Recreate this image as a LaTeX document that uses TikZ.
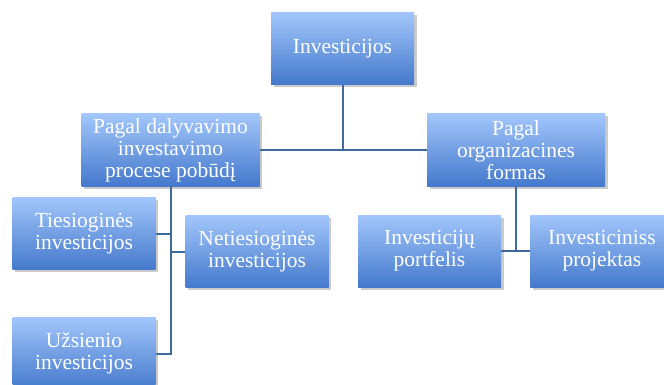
\documentclass[tikz,border=0pt]{standalone}
\usepackage{fontspec}
\setmainfont{Liberation Serif}
\usepackage{xcolor}
\usepackage{tikz}
\usetikzlibrary{shadows, positioning}
\definecolor{boxtop}{HTML}{A2C6FB}
\definecolor{boxbottom}{HTML}{4479CC}
\definecolor{linkblue}{HTML}{3E6A9E}
\tikzstyle{link} = [draw=linkblue, line width=2pt]

\begin{document}
\begin{tikzpicture}[x=1pt, y=1pt]
	% Define styles for the boxes
	\tikzstyle{box} = [rectangle, top color=boxtop, bottom color=boxbottom, text=white, align=center, inner sep=1pt, minimum width=143pt, minimum height=72pt, font=\fontsize{21.5}{22}\selectfont, drop shadow={shadow xshift=2.5pt, shadow yshift=-2.5pt, opacity=0.35, fill=black!60}]
	\tikzstyle{widebox} = [box, minimum width=178pt]
	
	% Picture frame
	\useasboundingbox (0,0) rectangle (664,-385);
	\clip (0,0) rectangle (664,-385);
	
	% Top level
	\node[box] (investicijos) at (342.5,-48.5) {Investicijos};
	
	% Second level
	\node[widebox] (dalyvavimo) at (170.5,-150) {Pagal dalyvavimo\\investavimo\\procese pobūdį};
	\node[widebox] (formos) at (516,-150) {Pagal\\organizacines\\formas};
	
	% Third level
	\node[box] (tiesiogines) at (84,-233.5) {Tiesioginės\\investicijos};
	\node[box] (netiesiogines) at (257,-251.5) {Netiesioginės\\investicijos};
	\node[box] (uzsienio) at (84,-353.5) {Užsienio\\investicijos};
	\node[box] (portfelis) at (429.5,-251) {Investicijų\\portfelis};
	\node[box, right=29pt of portfelis] (projektas) {Investiciniss\\projektas};
	
	% Draw the links
	\draw[link] (dalyvavimo.east) -- (formos.west);
	\draw[link] (investicijos.south) -- (investicijos.south |- dalyvavimo.east);
	\draw[link] (dalyvavimo.south) |- (uzsienio.east);
	\draw[link] (tiesiogines.east) -- (tiesiogines.east -| dalyvavimo.south);
	\draw[link] (netiesiogines.west) -- (netiesiogines.west -| dalyvavimo.south);
	\draw[link] (formos.south) |- (portfelis.east);
	\draw[link] (portfelis.east) -- (projektas.west);
\end{tikzpicture}
\end{document}
